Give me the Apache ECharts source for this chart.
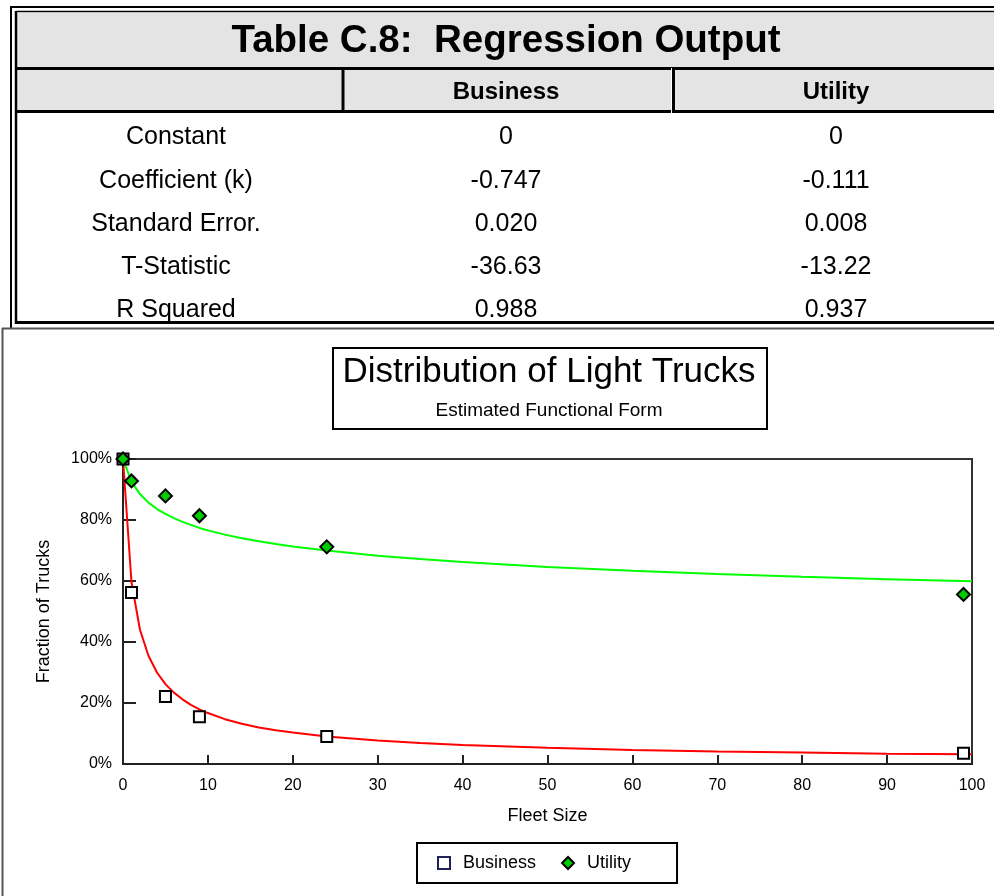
<!DOCTYPE html>
<html><head><meta charset="utf-8">
<script src="https://cdn.jsdelivr.net/npm/echarts@6/dist/echarts.min.js"></script>
<style>html,body{margin:0;padding:0;background:#fff}#c{width:994px;height:896px}</style>
</head><body><div id="c"></div>
<script>
// ---- table content ----
const tableTitle = 'Table C.8:  Regression Output';
const tableColumns = ['Business', 'Utility'];
const tableRowLabels = ['Constant', 'Coefficient (k)', 'Standard Error.', 'T-Statistic', 'R Squared'];
const businessStats = ['0', '-0.747', '0.020', '-36.63', '0.988'];
const utilityStats = ['0', '-0.111', '0.008', '-13.22', '0.937'];

// ---- chart content ----
const chartTitle = 'Distribution of Light Trucks';
const chartSubtitle = 'Estimated Functional Form';
const xAxisName = 'Fleet Size';
const yAxisName = 'Fraction of Trucks';
const seriesNames = ['Business', 'Utility'];

// observed points (fleet size, % of trucks)
const fleetSizes = [0, 1, 5, 9, 24, 99];
const businessObserved = [100, 56.2, 22.1, 15.5, 9.0, 3.5];
const utilityObserved = [100, 92.8, 87.9, 81.4, 71.2, 55.6];

// fitted curves
const curveX = [0, 1, 2, 3, 4, 5, 6, 7, 8, 9, 10, 12, 14, 16, 18, 20, 24, 30, 35, 40, 50, 60, 70, 80, 90, 100];
const businessFit = [100, 59.6, 44.0, 35.5, 30.0, 26.2, 23.4, 21.2, 19.4, 17.9, 16.7, 14.7, 13.2, 12.0, 11.1, 10.3, 9.0, 7.7, 6.9, 6.2, 5.3, 4.6, 4.1, 3.8, 3.4, 3.2];
const utilityFit = [100, 92.6, 88.5, 85.7, 83.6, 82.0, 80.6, 79.4, 78.4, 77.4, 76.6, 75.2, 74.0, 73.0, 72.1, 71.3, 70.0, 68.3, 67.2, 66.2, 64.6, 63.4, 62.3, 61.4, 60.6, 59.9];

const F = '"Liberation Sans", Arial, Helvetica, sans-serif';
const zip = (a, b) => a.map((v, i) => [v, b[i]]);

// ---- table drawn as graphic elements ----
const g = [];
function rect(x, y, w, h, fill) { g.push({ type: 'rect', silent: true, shape: { x: x, y: y, width: w, height: h }, style: { fill: fill } }); }
function line(x1, y1, x2, y2, w, c) { g.push({ type: 'line', silent: true, shape: { x1: x1, y1: y1, x2: x2, y2: y2 }, style: { stroke: c || '#000', lineWidth: w } }); }
function text(t, x, y, size, bold) {
  g.push({ type: 'text', silent: true, x: x, y: y, style: { text: t, x: 0, y: 0, align: 'center', verticalAlign: 'middle', fontSize: size, fontWeight: bold ? 'bold' : 'normal', fontFamily: F, fill: '#000' } });
}
rect(17, 13, 977, 55, '#e4e4e4');
rect(17, 69, 977, 42, '#e4e4e4');
line(11, 7, 994, 7, 2);
line(11, 6, 11, 328, 2);
line(16, 11.5, 994, 11.5, 1.5);
line(16, 11, 16, 324, 2.5);
line(16, 322.5, 994, 322.5, 3);
line(17, 68.5, 994, 68.5, 3);
line(17, 111.5, 994, 111.5, 3);
line(343, 68, 343, 113, 3);
line(671.5, 68, 671.5, 113, 1, '#fff');
line(673.5, 68, 673.5, 113, 3);
// chart frame
line(2, 328.5, 994, 328.5, 2, '#555');
line(2.5, 328, 2.5, 896, 2, '#555');
// title box of chart
g.push({ type: 'rect', silent: true, shape: { x: 333, y: 348, width: 434, height: 81 }, style: { fill: 'none', stroke: '#000', lineWidth: 2 } });

text(tableTitle, 506, 41, 38.5, true);
text(tableColumns[0], 506, 92, 24, true);
text(tableColumns[1], 836, 92, 24, true);
tableRowLabels.forEach((lab, i) => {
  const y = 137.5 + i * 43.25;
  text(lab, 176, y, 25, false);
  text(businessStats[i], 506, y, 25, false);
  text(utilityStats[i], 836, y, 25, false);
});

const chart = echarts.init(document.getElementById('c'), null, { renderer: 'canvas' });
chart.setOption({
  animation: false,
  backgroundColor: '#fff',
  textStyle: { fontFamily: F, color: '#000' },
  title: {
    text: chartTitle,
    subtext: chartSubtitle,
    left: 538, top: 347,
    textAlign: 'center',
    padding: [8, 11, 8, 11],
    itemGap: 11,
    textStyle: { fontSize: 35, fontWeight: 'normal', color: '#000', fontFamily: F },
    subtextStyle: { fontSize: 19, color: '#000', fontFamily: F }
  },
  legend: {
    left: 417, top: 843,
    orient: 'horizontal',
    itemWidth: 12, itemHeight: 12, itemGap: 25,
    padding: [11, 46, 11, 20],
    borderColor: '#000', borderWidth: 2,
    textStyle: { fontSize: 18, color: '#000', fontFamily: F, padding: [0, 0, 0, 8] },
    data: [
      { name: seriesNames[0], icon: 'rect', itemStyle: { color: '#fff', borderColor: '#22225a', borderWidth: 2 } },
      { name: seriesNames[1], icon: 'diamond', itemStyle: { color: '#00cc00', borderColor: '#000', borderWidth: 2 } }
    ]
  },
  grid: { left: 123, right: 22, top: 459, bottom: 132, show: true, borderColor: '#333', borderWidth: 2, backgroundColor: 'transparent' },
  xAxis: {
    type: 'value', min: 0, max: 100, interval: 10,
    name: xAxisName, nameLocation: 'middle', nameGap: 43,
    nameTextStyle: { fontSize: 18, color: '#000', fontFamily: F },
    axisLine: { lineStyle: { color: '#222', width: 2 } },
    axisTick: { inside: true, length: 9, lineStyle: { color: '#222', width: 2 } },
    axisLabel: { fontSize: 16, color: '#000', margin: 14, fontFamily: F },
    splitLine: { show: false }
  },
  yAxis: {
    type: 'value', min: 0, max: 100, interval: 20,
    name: yAxisName, nameLocation: 'middle', nameGap: 70,
    nameTextStyle: { fontSize: 18, color: '#000', fontFamily: F },
    axisLine: { show: true, lineStyle: { color: '#222', width: 2 } },
    axisTick: { show: true, inside: true, length: 13, lineStyle: { color: '#222', width: 2 } },
    axisLabel: { fontSize: 16, color: '#000', margin: 11, formatter: '{value}%', fontFamily: F },
    splitLine: { show: false }
  },
  graphic: g,
  series: [
    { name: 'Business fit', type: 'line', data: zip(curveX, businessFit), showSymbol: false, silent: true, z: 2,
      lineStyle: { color: '#ff0000', width: 2 }, itemStyle: { color: '#ff0000' } },
    { name: 'Utility fit', type: 'line', data: zip(curveX, utilityFit), showSymbol: false, silent: true, z: 2,
      lineStyle: { color: '#00ff00', width: 2 }, itemStyle: { color: '#00ff00' } },
    { name: seriesNames[0], type: 'scatter', data: zip(fleetSizes, businessObserved), symbol: 'rect', symbolSize: 11, z: 3,
      itemStyle: { color: '#fff', borderColor: '#000', borderWidth: 2, opacity: 1 } },
    { name: seriesNames[1], type: 'scatter', data: zip(fleetSizes, utilityObserved), symbol: 'diamond', symbolSize: 13, z: 4,
      itemStyle: { color: '#00cc00', borderColor: '#000', borderWidth: 2, opacity: 1 } }
  ]
});
</script>
</body></html>
